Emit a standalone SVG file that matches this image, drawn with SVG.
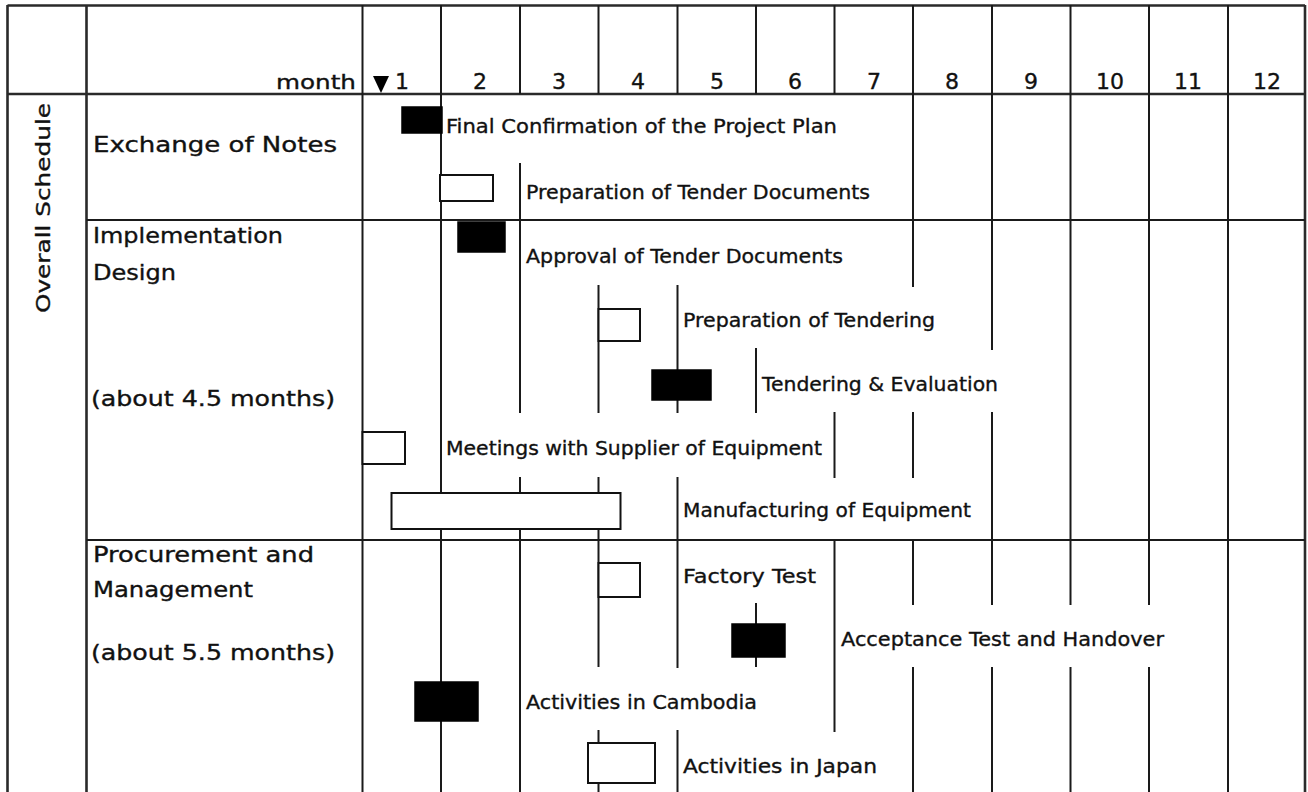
<svg xmlns="http://www.w3.org/2000/svg" width="1308" height="792" viewBox="0 0 1308 792">
<style>
.bg{fill:#fff}
.grid{stroke:#1a1a1a;stroke-width:2;fill:none}
.frame{stroke:#2a2a2a;stroke-width:2.6;fill:none}
.bb{fill:#000;stroke:#000;stroke-width:1.5}
.bw{fill:#fff;stroke:#111;stroke-width:2}
.t{font-family:"DejaVu Sans","Liberation Sans",sans-serif;fill:#111;stroke:#111;stroke-width:0.35}
.hd{font-size:20px}
.rl{font-size:21px}
.tl{font-size:20px}
.num{font-size:22px;text-anchor:middle}
</style>
<rect class="bg" x="0" y="0" width="1308" height="792"/>
<g id="connectors">
<path class="frame" d="M7.5 5.5H1305 M7.5 94H1305 M7.5 5V792 M86.5 5V792 M1305 5V792"/>
<path class="grid" d="M86.5 220H1305 M86.5 540H1305
M362.5 5V792 M441 5V792
M520 5V94 M520 163V413 M520 477V792
M598.5 5V94 M598.5 285V413 M598.5 477V667 M598.5 730V792
M677.5 5V94 M677.5 285V413 M677.5 477V668 M677.5 730V792
M756 5V94 M756 348V413 M756 603V667
M834.5 5V94 M834.5 412V478 M834.5 540V732
M913 5V287 M913 412V478 M913 540V605 M913 667V792
M992 5V350 M992 412V605 M992 667V792
M1070.5 5V605 M1070.5 667V792
M1149 5V605 M1149 667V792
M1228 5V792"/>
</g>
<g id="header">
<text class="t hd" x="356" y="89" text-anchor="end" textLength="80" lengthAdjust="spacingAndGlyphs">month</text>
<polygon points="373,76 389,76 381,93" fill="#000"/>
<text class="t num" x="402" y="89">1</text>
<text class="t num" x="480" y="89">2</text>
<text class="t num" x="559" y="89">3</text>
<text class="t num" x="638" y="89">4</text>
<text class="t num" x="717" y="89">5</text>
<text class="t num" x="795" y="89">6</text>
<text class="t num" x="874" y="89">7</text>
<text class="t num" x="952" y="89">8</text>
<text class="t num" x="1031" y="89">9</text>
<text class="t num" x="1110" y="89">10</text>
<text class="t num" x="1188" y="89">11</text>
<text class="t num" x="1267" y="89">12</text>
</g>
<g id="overall-schedule">
<text class="t hd" transform="translate(50,313) rotate(-90)" x="0" y="0" textLength="210" lengthAdjust="spacingAndGlyphs">Overall Schedule</text>
</g>
<g id="row-exchange">
<text class="t rl" x="93" y="152" textLength="244" lengthAdjust="spacingAndGlyphs">Exchange of Notes</text>
</g>
<g id="row-design">
<text class="t rl" x="93" y="243" textLength="190" lengthAdjust="spacingAndGlyphs">Implementation</text>
<text class="t rl" x="93" y="280" textLength="83" lengthAdjust="spacingAndGlyphs">Design</text>
<text class="t rl" x="91" y="406" textLength="244" lengthAdjust="spacingAndGlyphs">(about 4.5 months)</text>
</g>
<g id="row-procurement">
<text class="t rl" x="93" y="562" textLength="221" lengthAdjust="spacingAndGlyphs">Procurement and</text>
<text class="t rl" x="93" y="597" textLength="160" lengthAdjust="spacingAndGlyphs">Management</text>
<text class="t rl" x="91" y="660" textLength="244" lengthAdjust="spacingAndGlyphs">(about 5.5 months)</text>
</g>
<g id="task-final-confirmation">
<rect class="bb" x="402" y="107" width="40" height="26"/>
<text class="t tl" x="446" y="133" textLength="391" lengthAdjust="spacingAndGlyphs">Final Confirmation of the Project Plan</text>
</g>
<g id="task-prep-tender-docs">
<rect class="bw" x="440" y="175" width="53" height="26"/>
<text class="t tl" x="526" y="199" textLength="344" lengthAdjust="spacingAndGlyphs">Preparation of Tender Documents</text>
</g>
<g id="task-approval">
<rect class="bb" x="458" y="222" width="47" height="30"/>
<text class="t tl" x="526" y="263" textLength="317" lengthAdjust="spacingAndGlyphs">Approval of Tender Documents</text>
</g>
<g id="task-prep-tendering">
<rect class="bw" x="598.5" y="309" width="41.5" height="32"/>
<text class="t tl" x="683" y="327" textLength="252" lengthAdjust="spacingAndGlyphs">Preparation of Tendering</text>
</g>
<g id="task-tendering-evaluation">
<rect class="bb" x="652" y="370" width="59" height="30"/>
<text class="t tl" x="762" y="391" textLength="236" lengthAdjust="spacingAndGlyphs">Tendering &amp; Evaluation</text>
</g>
<g id="task-meetings">
<rect class="bw" x="362.5" y="432" width="42.5" height="32"/>
<text class="t tl" x="446" y="455" textLength="376" lengthAdjust="spacingAndGlyphs">Meetings with Supplier of Equipment</text>
</g>
<g id="task-manufacturing">
<rect class="bw" x="391.5" y="493" width="229" height="36"/>
<text class="t tl" x="683" y="517" textLength="288" lengthAdjust="spacingAndGlyphs">Manufacturing of Equipment</text>
</g>
<g id="task-factory-test">
<rect class="bw" x="598.5" y="563" width="41.5" height="34"/>
<text class="t tl" x="683" y="583" textLength="133" lengthAdjust="spacingAndGlyphs">Factory Test</text>
</g>
<g id="task-acceptance">
<rect class="bb" x="732" y="624" width="53" height="33"/>
<text class="t tl" x="841" y="646" textLength="323" lengthAdjust="spacingAndGlyphs">Acceptance Test and Handover</text>
</g>
<g id="task-cambodia">
<rect class="bb" x="415" y="682" width="63" height="39"/>
<text class="t tl" x="526" y="709" textLength="231" lengthAdjust="spacingAndGlyphs">Activities in Cambodia</text>
</g>
<g id="task-japan">
<rect class="bw" x="588" y="743" width="67" height="40"/>
<text class="t tl" x="683" y="773" textLength="194" lengthAdjust="spacingAndGlyphs">Activities in Japan</text>
</g>
</svg>
